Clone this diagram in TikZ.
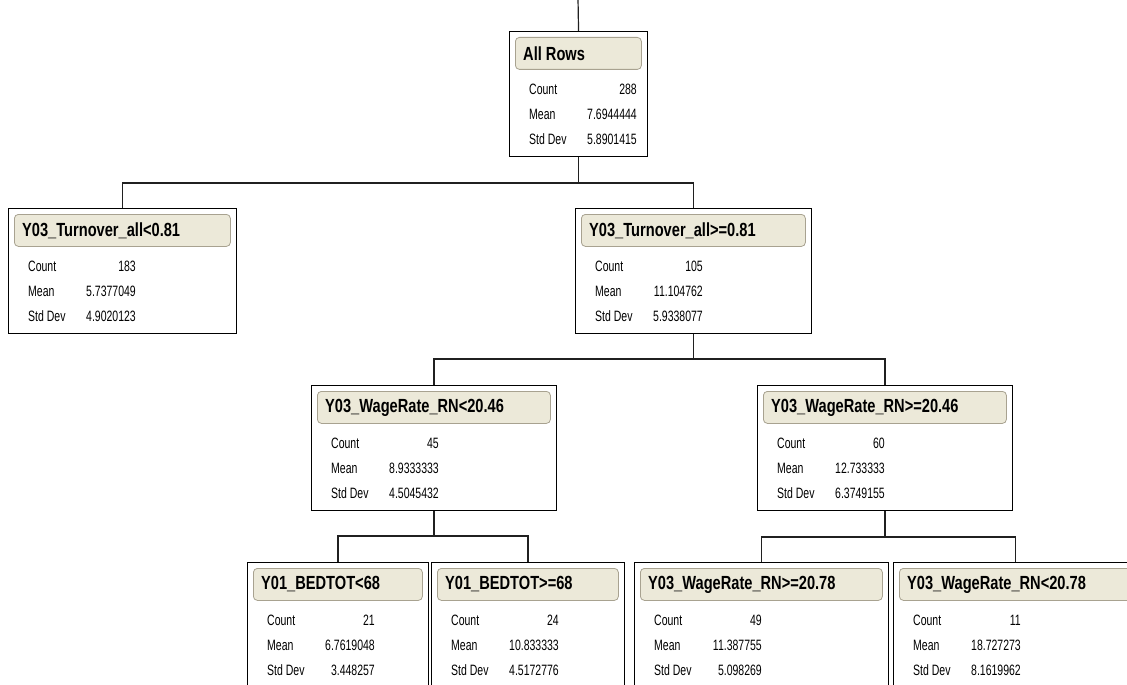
\documentclass[tikz,border=0pt]{standalone}
\usepackage{fontspec}
\newfontfamily\statfont[FakeStretch=0.7]{Liberation Sans}
\newfontfamily\titlefont[FakeStretch=0.77]{Liberation Sans}
\definecolor{barfill}{HTML}{ECE9D9}
\definecolor{barline}{HTML}{A8A290}
\definecolor{conn}{HTML}{202020}
\tikzset{
  tbox/.style={draw=black, line width=1.1pt, fill=white, rectangle, inner sep=0pt, minimum height=125pt, anchor=north west},
  tbar/.style={draw=barline, line width=0.8pt, fill=barfill, rounded corners=4pt, rectangle, inner sep=0pt, minimum height=32pt, anchor=north west},
  ttext/.style={inner sep=0pt, anchor=west, font=\titlefont\bfseries\fontsize{19}{21}\selectfont},
  slab/.style={inner sep=0pt, anchor=base west, font=\statfont\fontsize{15}{17}\selectfont},
  sval/.style={inner sep=0pt, anchor=base east, font=\statfont\fontsize{15}{17}\selectfont},
  link/.style={draw=conn, line width=1.2pt}
}
% name, x, y, width, title, count, mean, sd
\newcommand\treebox[8]{%
  \node[tbox, minimum width=#4pt] (#1) at (#2,#3) {};
  \node[tbar, minimum width={(#4-12)*1pt}] (#1bar) at ([shift={(6,6)}]#1.north west) {};
  \node[ttext] (#1title) at ([shift={(8,0)}]#1bar.west) {#5};
  \node[slab] (#1cl) at ([shift={(20,63)}]#1.north west) {Count};
  \node[sval] (#1cv) at ([shift={(128,63)}]#1.north west) {#6};
  \node[slab] (#1ml) at ([shift={(20,88)}]#1.north west) {Mean};
  \node[sval] (#1mv) at ([shift={(128,88)}]#1.north west) {#7};
  \node[slab] (#1sl) at ([shift={(20,113)}]#1.north west) {Std Dev};
  \node[sval] (#1sv) at ([shift={(128,113)}]#1.north west) {#8};
}
\begin{document}
\begin{tikzpicture}[x=1pt,y=-1pt]
\useasboundingbox (0,0) rectangle (1127,685);
\clip (0,0) rectangle (1127,685);
\fill[white] (0,0) rectangle (1127,685);
\coordinate (top) at (578,-2);

\treebox{root}{509}{31}{138}{All Rows}{288}{7.6944444}{5.8901415}
\treebox{L}{8}{208}{228}{Y03\_Turnover\_all<0.81}{183}{5.7377049}{4.9020123}
\treebox{R}{575}{208}{236}{Y03\_Turnover\_all>=0.81}{105}{11.104762}{5.9338077}
\treebox{RL}{311}{385}{245}{Y03\_WageRate\_RN<20.46}{45}{8.9333333}{4.5045432}
\treebox{RR}{757}{385}{255}{Y03\_WageRate\_RN>=20.46}{60}{12.733333}{6.3749155}
\treebox{RLL}{247}{562}{181}{Y01\_BEDTOT<68}{21}{6.7619048}{3.448257}
\treebox{RLR}{431}{562}{193}{Y01\_BEDTOT>=68}{24}{10.833333}{4.5172776}
\treebox{RRL}{634}{562}{254}{Y03\_WageRate\_RN>=20.78}{49}{11.387755}{5.098269}
\treebox{RRR}{893}{562}{244}{Y03\_WageRate\_RN<20.78}{11}{18.727273}{8.1619962}

\draw[link] (top) -- (root.north);
\draw[link] (root.south) -- (root.south |- 0,183) coordinate (j1);
\draw[link] (L.north) |- (j1) -| (R.north);
\draw[link] (R.south) -- (R.south |- 0,359) coordinate (j2);
\draw[link] (RL.north) |- (j2) -| (RR.north);
\draw[link] (RL.south) -- (RL.south |- 0,536) coordinate (j3);
\draw[link] (RLL.north) |- (j3) -| (RLR.north);
\draw[link] (RR.south) -- (RR.south |- 0,537) coordinate (j4);
\draw[link] (RRL.north) |- (j4) -| (RRR.north);
\end{tikzpicture}
\end{document}
